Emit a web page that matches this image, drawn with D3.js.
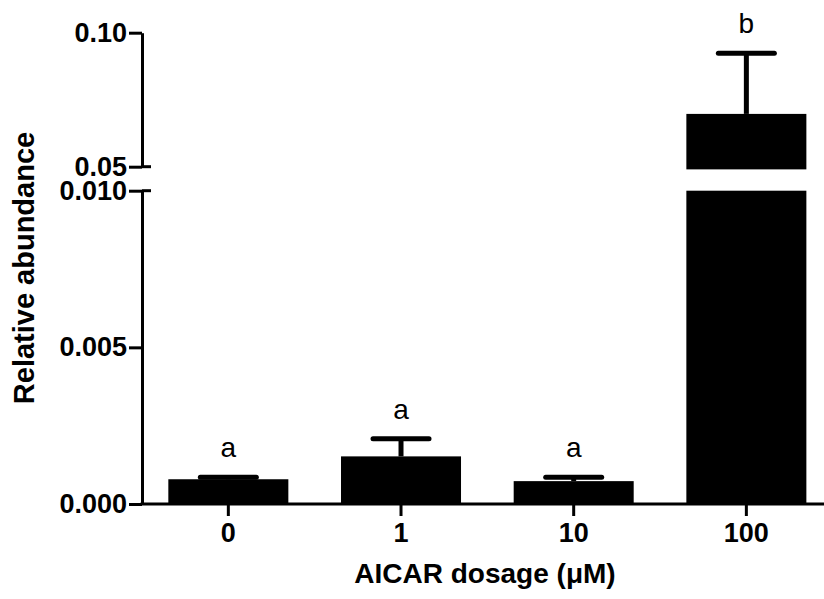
<!DOCTYPE html>
<html>
<head>
<meta charset="utf-8">
<script src="https://cdn.jsdelivr.net/npm/d3@7"></script>
<style>
  body { margin: 0; background: #fff; }
  text { font-family: "Liberation Sans", Arial, sans-serif; fill: #000; }
</style>
</head>
<body>
<div id="chart"></div>
<script>
// data
const doses = ["0", "1", "10", "100"];
const means = [0.00079, 0.00152, 0.00073, 0.0697];
const sems = [0.00006, 0.00056, 0.00012, 0.0226];
const letters = ["a", "a", "a", "b"];
const lowTicks = [0, 0.005, 0.010];
const highTicks = [0.05, 0.10];
const breakLow = 0.010, breakHigh = 0.05;

const W = 824, H = 599;
const svg = d3.select("#chart").append("svg")
    .attr("width", W)
    .attr("height", H);

const axisX = 142, baseY = 504;

const x = d3.scaleBand().domain(doses).range([axisX, axisX + 690.7])
    .paddingInner(0.305).paddingOuter(0.1525);
const yLow = d3.scaleLinear().domain([0, breakLow]).range([baseY, 190.7]);
const yHigh = d3.scaleLinear().domain([breakHigh, 0.10]).range([166.7, 32.7]);
const yy = v => v <= breakLow ? yLow(v) : yHigh(v);

const rows = doses.map((d, i) => ({ dose: d, mean: means[i], sem: sems[i], letter: letters[i] }));

// bars (broken bar for values above the break)
svg.selectAll("rect.low")
   .data(rows)
   .enter().append("rect")
   .attr("class", "low")
   .attr("x", d => x(d.dose))
   .attr("width", x.bandwidth())
   .attr("y", d => yLow(Math.min(d.mean, breakLow)))
   .attr("height", d => yLow(0) - yLow(Math.min(d.mean, breakLow)))
   .attr("fill", "#000");

svg.selectAll("rect.high")
   .data(rows.filter(d => d.mean > breakLow))
   .enter().append("rect")
   .attr("class", "high")
   .attr("x", d => x(d.dose))
   .attr("width", x.bandwidth())
   .attr("y", d => yHigh(d.mean))
   .attr("height", d => yHigh(0.049) - yHigh(d.mean))
   .attr("fill", "#000");

// error bars (upper only)
const cx = d => x(d.dose) + x.bandwidth() / 2;
svg.selectAll("line.stem")
   .data(rows)
   .enter().append("line")
   .attr("x1", cx).attr("x2", cx)
   .attr("y1", d => yy(d.mean))
   .attr("y2", d => yy(d.mean + d.sem))
   .attr("stroke", "#000")
   .attr("stroke-width", 5);

svg.selectAll("line.cap")
   .data(rows)
   .enter().append("line")
   .attr("x1", d => cx(d) - 28).attr("x2", d => cx(d) + 28)
   .attr("y1", d => yy(d.mean + d.sem))
   .attr("y2", d => yy(d.mean + d.sem))
   .attr("stroke", "#000")
   .attr("stroke-width", 5)
   .attr("stroke-linecap", "round");

svg.selectAll("text.letter")
   .data(rows)
   .enter().append("text")
   .attr("x", cx)
   .attr("y", d => yy(d.mean + d.sem) - 20)
   .attr("text-anchor", "middle")
   .attr("font-size", 28)
   .text(d => d.letter);

// axes
function styleAxis(g) {
  g.selectAll("path.domain").attr("stroke", "#000").attr("stroke-width", 3);
  g.selectAll(".tick line").attr("stroke", "#000").attr("stroke-width", 3);
  g.selectAll(".tick text")
   .attr("font-size", 27)
   .attr("font-weight", "bold")
   .attr("font-family", "'Liberation Sans', Arial, sans-serif")
   .attr("fill", "#000");
}

const gLow = svg.append("g")
   .attr("transform", `translate(${axisX},0)`)
   .call(d3.axisLeft(yLow).tickValues(lowTicks).tickFormat(d3.format(".3f"))
         .tickSizeOuter(0).tickSizeInner(13).tickPadding(2))
   .call(styleAxis);

const gHigh = svg.append("g")
   .attr("transform", `translate(${axisX},0)`)
   .call(d3.axisLeft(yHigh).tickValues(highTicks).tickFormat(d3.format(".2f"))
         .tickSizeOuter(0).tickSizeInner(13).tickPadding(2))
   .call(styleAxis);

// break marks extend to the right of the axis
svg.selectAll("line.brk")
   .data([yLow(breakLow), yHigh(breakHigh)])
   .enter().append("line")
   .attr("x1", axisX).attr("x2", axisX + 9)
   .attr("y1", d => d).attr("y2", d => d)
   .attr("stroke", "#000")
   .attr("stroke-width", 3);

const gx = svg.append("g")
   .attr("transform", `translate(0,${baseY})`)
   .call(d3.axisBottom(x).tickSizeOuter(0).tickSizeInner(12).tickPadding(7))
   .call(styleAxis);
gx.select("path.domain").attr("d", `M${axisX - 1.5},0H${W}`);

// titles
svg.append("text")
   .attr("x", 485)
   .attr("y", 583)
   .attr("text-anchor", "middle")
   .attr("font-size", 28)
   .attr("font-weight", "bold")
   .text("AICAR dosage (\u03BCM)");

svg.append("text")
   .attr("transform", "translate(34,268) rotate(-90)")
   .attr("text-anchor", "middle")
   .attr("font-size", 29)
   .attr("font-weight", "bold")
   .text("Relative abundance");
</script>
</body>
</html>
